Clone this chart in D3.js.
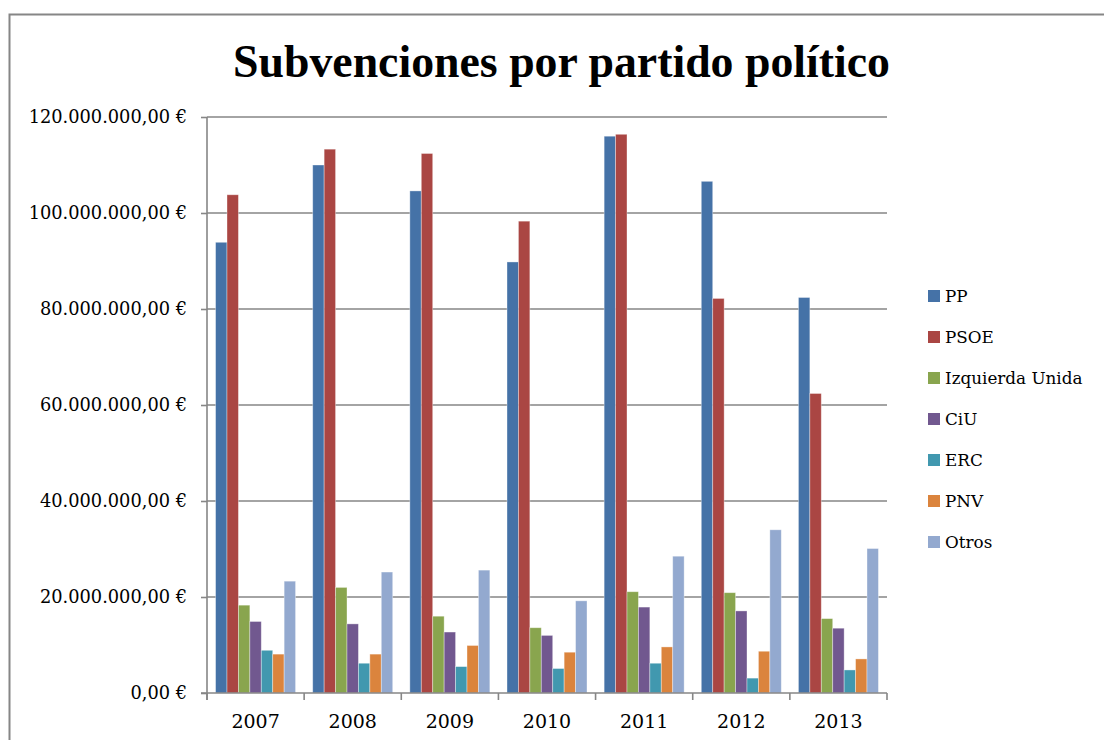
<!DOCTYPE html>
<html>
<head>
<meta charset="utf-8">
<script src="https://cdn.jsdelivr.net/npm/d3@7"></script>
<style>
  body { margin: 0; background: #fff; }
  svg { display: block; }
  text { font-family: "DejaVu Serif", serif; fill: #000; }
</style>
</head>
<body>
<svg id="chart" width="1104" height="740"></svg>
<script>
var years = ["2007", "2008", "2009", "2010", "2011", "2012", "2013"];
var parties = ["PP", "PSOE", "Izquierda Unida", "CiU", "ERC", "PNV", "Otros"];
var colors = ["#4572A7", "#AA4643", "#89A54E", "#71588F", "#4198AF", "#DB843D", "#93A9CF"];

// millions of euros, one array per party, ordered by year
var pp     = [93.9, 110.0, 104.6, 89.8, 116.0, 106.6, 82.4];
var psoe   = [103.8, 113.3, 112.4, 98.3, 116.4, 82.2, 62.4];
var iu     = [18.3, 22.0, 16.0, 13.6, 21.1, 20.9, 15.5];
var ciu    = [14.9, 14.4, 12.7, 12.0, 17.9, 17.1, 13.5];
var erc    = [8.9, 6.2, 5.5, 5.1, 6.2, 3.1, 4.8];
var pnv    = [8.1, 8.1, 9.9, 8.5, 9.6, 8.7, 7.1];
var otros  = [23.3, 25.2, 25.6, 19.2, 28.5, 34.0, 30.1];
var yTicks = [0, 20, 40, 60, 80, 100, 120];

var series = [pp, psoe, iu, ciu, erc, pnv, otros];

var svg = d3.select("#chart");
var plotLeft = 207, plotRight = 887, plotTop = 117, plotBottom = 693;
var axisColor = "#868686";

// outer frame
svg.append("rect")
  .attr("x", 9.5).attr("y", 14.5)
  .attr("width", 1200).attr("height", 800)
  .attr("fill", "none")
  .attr("stroke", axisColor)
  .attr("stroke-width", 2);

var x = d3.scaleBand().domain(years).range([plotLeft, plotRight]).paddingInner(0).paddingOuter(0);
var xs = d3.scaleBand().domain(parties).range([0, x.bandwidth()]).paddingInner(0).paddingOuter(0.75);
var y = d3.scaleLinear().domain([0, 120]).range([plotBottom, plotTop]);

// title, fitted to the reference width
var title = svg.append("text")
  .attr("x", (233 + 890) / 2).attr("y", 77)
  .attr("text-anchor", "middle")
  .style("font-family", "'Liberation Serif', serif")
  .style("font-weight", "bold")
  .style("font-size", "40px")
  .text("Subvenciones por partido político");
var tw = title.node().getComputedTextLength();
title.style("font-size", (40 * 657 / tw) + "px");

// gridlines
svg.append("g").selectAll("line")
  .data(yTicks.filter(function(d) { return d > 0; }))
  .join("line")
  .attr("x1", plotLeft).attr("x2", plotRight)
  .attr("y1", function(d) { return y(d); })
  .attr("y2", function(d) { return y(d); })
  .attr("stroke", axisColor)
  .attr("stroke-width", 1.6);

// bars
var groups = svg.append("g").selectAll("g")
  .data(series)
  .join("g")
  .attr("fill", function(d, i) { return colors[i]; });

groups.each(function(vals, i) {
  d3.select(this).selectAll("rect")
    .data(vals)
    .join("rect")
    .attr("x", function(v, j) { return x(years[j]) + xs(parties[i]); })
    .attr("y", function(v) { return y(v); })
    .attr("width", xs.bandwidth())
    .attr("height", function(v) { return y(0) - y(v); })
    .attr("stroke", "#fff")
    .attr("stroke-opacity", 0.45)
    .attr("stroke-width", 0.8);
});

// y axis
var yAxis = d3.axisLeft(y)
  .tickValues(yTicks)
  .tickSize(6)
  .tickPadding(14)
  .tickFormat(function(d) {
    return d3.format(",.2f")(d * 1e6).replace(/,/g, "#").replace(".", ",").replace(/#/g, ".") + " €";
  });

var gy = svg.append("g").attr("transform", "translate(" + plotLeft + ",0)").call(yAxis);
gy.select(".domain").attr("stroke", axisColor).attr("stroke-width", 1.6)
  .attr("d", "M0," + plotTop + "V" + (plotBottom + 7));
gy.selectAll(".tick line").attr("stroke", axisColor).attr("stroke-width", 1.6);
gy.selectAll(".tick text")
  .style("font-family", "'DejaVu Serif', serif")
  .style("font-size", "17.8px")
  .attr("fill", "#000");

// x axis
var xAxis = d3.axisBottom(x).tickSize(0).tickPadding(22);
var gx = svg.append("g").attr("transform", "translate(0," + plotBottom + ")").call(xAxis);
gx.select(".domain").attr("stroke", axisColor).attr("stroke-width", 1.6)
  .attr("d", "M" + (plotLeft - 6) + ",0H" + plotRight);
gx.selectAll(".tick text")
  .style("font-family", "'DejaVu Serif', serif")
  .style("font-size", "19px")
  .attr("fill", "#000");
gx.append("g").selectAll("line")
  .data(years.concat(["end"]))
  .join("line")
  .attr("x1", function(d) { return d === "end" ? plotRight : x(d); })
  .attr("x2", function(d) { return d === "end" ? plotRight : x(d); })
  .attr("y1", 0).attr("y2", 7)
  .attr("stroke", axisColor)
  .attr("stroke-width", 1.6);

// legend
var ly = d3.scalePoint().domain(parties).range([296, 542]);
var legend = svg.append("g").selectAll("g")
  .data(parties)
  .join("g")
  .attr("transform", function(d) { return "translate(928," + ly(d) + ")"; });
legend.append("rect")
  .attr("x", 0).attr("y", -6)
  .attr("width", 12).attr("height", 12)
  .attr("fill", function(d, i) { return colors[i]; });
legend.append("text")
  .attr("x", 17).attr("y", 6)
  .style("font-size", "16.8px")
  .text(function(d) { return d; });
</script>
</body>
</html>
